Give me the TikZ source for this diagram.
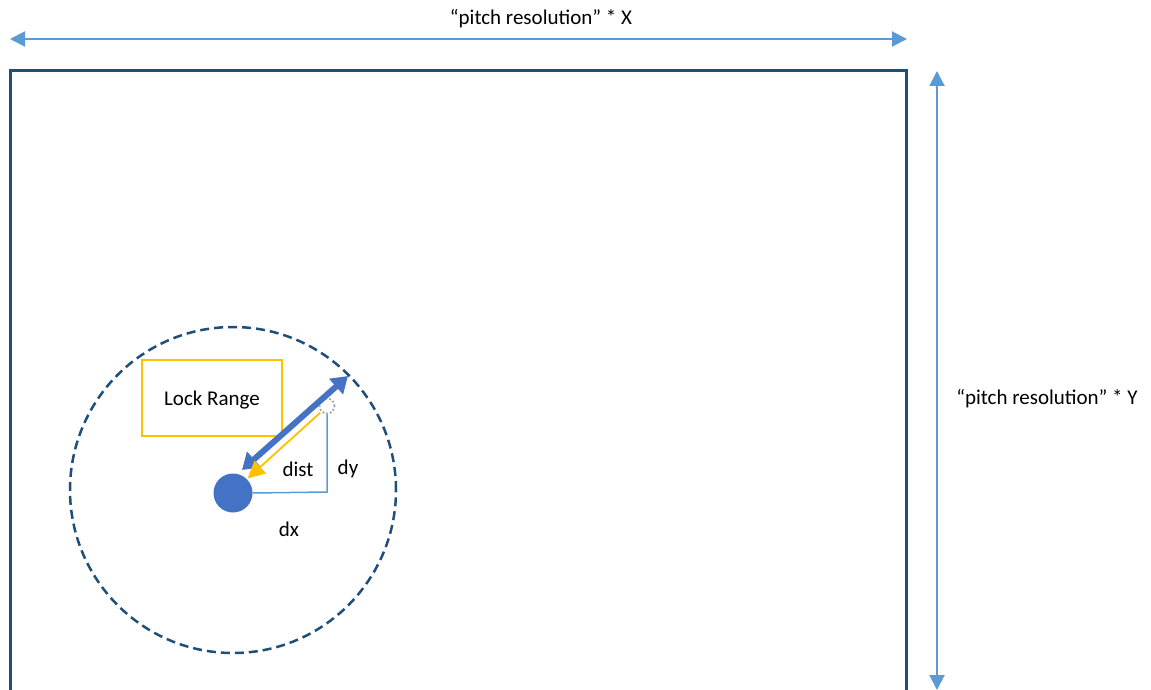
\documentclass[tikz,border=0pt]{standalone}
\usepackage{fontspec}
\setmainfont{Carlito}
\usetikzlibrary{arrows.meta}
\definecolor{frameblue}{HTML}{1F4E79}
\definecolor{dimblue}{HTML}{5B9BD5}
\definecolor{dotblue}{HTML}{4472C4}
\definecolor{lockorange}{HTML}{FFC000}
\tikzset{
  lbl/.style={inner sep=0pt, font=\fontsize{21}{25}\selectfont, text=black},
  dimarrow/.style={draw=dimblue, line width=2pt, {Triangle[length=15pt,width=15pt]}-{Triangle[length=15pt,width=15pt]}},
}
\begin{document}
\begin{tikzpicture}[x=1pt,y=-1pt]
\useasboundingbox (0,0) rectangle (1151,690);
% frame (open at bottom)
\draw[frameblue, line width=3pt] (10,700) -- (10,71) -- (906,71) -- (906,700);
% dimension arrows
\coordinate (xl) at (10,39);
\coordinate (xr) at (907,39);
\coordinate (yt) at (937,71);
\coordinate (yb) at (937,690);
\draw[dimarrow] (xl) -- (xr);
\draw[dimarrow] (yt) -- (yb);
\node[lbl] (xlabel) at (541,19) {“pitch resolution” * X};
\node[lbl] (ylabel) at (1047,399) {“pitch resolution” * Y};
% lock range circle
\node[draw=frameblue, line width=2.5pt, dash pattern=on 9pt off 5pt, circle, minimum size=326pt, inner sep=0pt] (range) at (233,490) {};
% lock range box
\node[draw=lockorange, line width=2.5pt, minimum width=140pt, minimum height=76pt, inner sep=0pt, lbl] (lockbox) at (212,398) {};
\node[lbl] (locktext) at (212,400) {Lock Range};
% dot and ghost
\node[circle, fill=dotblue, minimum size=39pt, inner sep=0pt] (dot) at (233,493) {};
\node[circle, draw=gray!70, dotted, line width=1.8pt, minimum size=15pt, inner sep=0pt] (ghost) at (327,406) {};
% right-angle dx/dy
\coordinate (corner) at (327,492);
\draw[dimblue, line width=1.5pt] (dot.east) -- (corner) -- (ghost.south);
% blue thick double arrow
\coordinate (ba) at (242,470);
\coordinate (bb) at (348,376);
\draw[dotblue, line width=6pt, {Triangle[length=16pt,width=20pt]}-{Triangle[length=16pt,width=20pt]}] (ba) -- (bb);
% orange dist arrow
\draw[lockorange, line width=1.8pt, -{Triangle[length=17pt,width=17pt]}, shorten <=1pt, shorten >=1pt] (ghost.south west) -- (dot.north east);
\node[lbl] (dist) at (298,469) {dist};
\node[lbl] (dy) at (348,469) {dy};
\node[lbl] (dx) at (289,529) {dx};
\end{tikzpicture}
\end{document}
